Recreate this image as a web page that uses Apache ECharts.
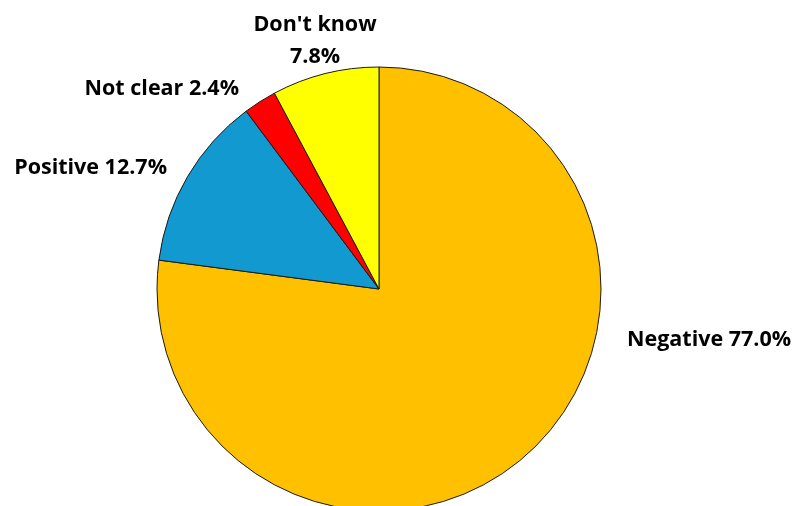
<!DOCTYPE html>
<html>
<head>
<meta charset="utf-8">
<script src="https://cdn.jsdelivr.net/npm/echarts@6/dist/echarts.min.js"></script>
<style>
html,body{margin:0;padding:0;background:#fff;}
#chart{width:796px;height:506px;}
</style>
</head>
<body>
<div id="chart"></div>
<script>
var categories = ["Negative", "Positive", "Not clear", "Don't know"];
var values = [77.0, 12.7, 2.4, 7.8];
var labelTexts = ["Negative 77.0%", "Positive 12.7%", "Not clear 2.4%", "Don't know\n7.8%"];
var colors = ["#FFC000", "#1199D0", "#FF0000", "#FFFF00"];

var cx = 379, cy = 289, R = 222;
// label placement offsets relative to pie centre (style, not data)
var labelOffsets = [
  {dx: 248, dy: 51, align: 'left'},
  {dx: -212, dy: -121, align: 'right'},
  {dx: -140, dy: -200, align: 'right'},
  {dx: -64, dy: -248, align: 'center'}
];

var chart = echarts.init(document.getElementById('chart'), null, {renderer: 'canvas'});
var data = categories.map(function (c, i) {
  return {name: c, value: values[i], itemStyle: {color: colors[i]}};
});
chart.setOption({
  animation: false,
  backgroundColor: '#ffffff',
  series: [{
    type: 'pie',
    center: [cx, cy],
    radius: [0, R],
    startAngle: 90,
    clockwise: true,
    data: data,
    itemStyle: {borderColor: '#1a1a1a', borderWidth: 1},
    label: {
      show: true,
      position: 'outside',
      formatter: function (p) { return labelTexts[p.dataIndex]; },
      fontFamily: 'Open Sans',
      fontWeight: 'bold',
      fontSize: 21.5,
      color: '#000',
      lineHeight: 32,
      overflow: 'none'
    },
    labelLine: {show: false},
    labelLayout: function (p) {
      var o = labelOffsets[p.dataIndex];
      return {x: cx + o.dx, y: cy + o.dy, align: o.align, verticalAlign: 'middle'};
    },
    emphasis: {disabled: true}
  }]
});
</script>
</body>
</html>
